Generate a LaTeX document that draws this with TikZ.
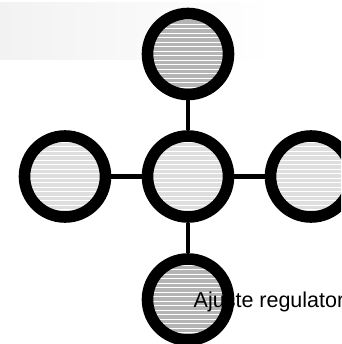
\documentclass[tikz,border=0pt]{standalone}
\usepackage{fontspec}
\setmainfont{Liberation Sans}
\definecolor{darkfill}{HTML}{B4B4B4}
\definecolor{lightfill}{HTML}{DEDEDE}
\definecolor{bandgray}{HTML}{F2F2F2}
\tikzset{
  hub/.style={circle, minimum size=92pt, inner sep=0pt},
  conn/.style={line width=4.5pt, draw=black},
  ring/.style={line width=11.6pt, draw=black},
}
\newcommand{\stripedisc}[2]{%
  \begin{scope}
    \clip (#1.center) circle (35);
    \fill[#2] (#1.center) circle (35);
    \foreach \k in {0,...,16} {
      \draw[white, line width=0.9pt] ([yshift=-35pt+\k*4.5pt+2pt]#1.center) ++(-40,0) -- ++(80,0);
    }
  \end{scope}}
\begin{document}
\begin{tikzpicture}[x=1pt,y=-1pt]
\useasboundingbox (0,0) rectangle (341,344);
\clip (0,0) rectangle (341,344);
\shade[left color=bandgray, right color=white] (0,2.7) rectangle (273,60);
\node[hub] (t) at (188,54) {};
\node[hub] (c) at (188,176.5) {};
\node[hub] (l) at (65,176.5) {};
\node[hub] (r) at (311,176.5) {};
\node[hub] (b) at (188,299.5) {};
\draw[conn] (c) -- (t);
\draw[conn] (c) -- (b);
\draw[conn] (c) -- (l);
\draw[conn] (c) -- (r);
\stripedisc{t}{darkfill}
\stripedisc{b}{darkfill}
\stripedisc{c}{lightfill}
\stripedisc{l}{lightfill}
\stripedisc{r}{lightfill}
\node[anchor=base west, inner sep=0pt, font=\fontsize{21.5}{26}\selectfont] (lbl) at (193.5,307) {Ajuste regulator};
\foreach \n in {t,c,l,r,b} { \draw[ring] (\n.center) circle (40.5); }
\end{tikzpicture}
\end{document}
